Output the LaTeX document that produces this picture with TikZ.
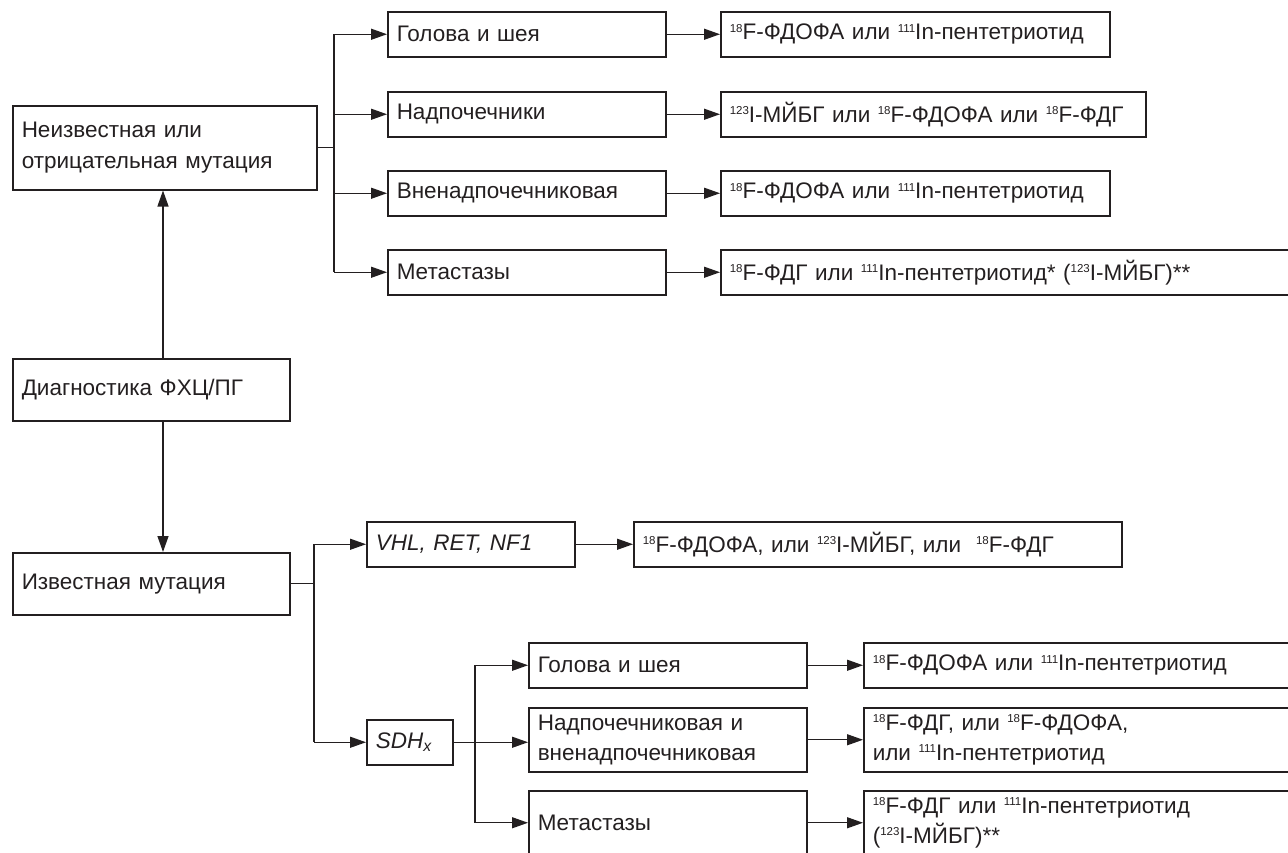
\documentclass[tikz,border=0pt]{standalone}
\usepackage{fontspec}
\setmainfont{Liberation Sans}
\usetikzlibrary{arrows.meta}
\definecolor{ink}{HTML}{231F20}
\newcommand\iso[1]{\raisebox{7.8pt}{\fontsize{11.5}{11.5}\selectfont #1}}
\begin{document}
\begin{tikzpicture}[x=1pt,y=-1pt,
  bx/.style={draw=ink, line width=1.5pt, anchor=north west, inner xsep=9pt, inner ysep=0pt,
    align=left, text=ink, font=\fontsize{22.5}{30.5}\selectfont},
  arr/.style={draw=ink, line width=1.3pt, -{Triangle[length=16pt,width=11pt]}},
  ln/.style={draw=ink, line width=1.3pt}]
\useasboundingbox (0,0) rectangle (1288,852);
\clip (0,0) rectangle (1288,852);
% left column
\node[bx, text width=286pt, minimum height=84pt] (unk) at (12,105) {Неизвестная или\\отрицательная мутация};
\node[bx, text width=259pt, minimum height=62pt] (diag) at (12,358) {Диагностика ФХЦ/ПГ};
\node[bx, text width=259pt, minimum height=62pt] (known) at (12,552) {Известная мутация};
% top branch
\node[bx, text width=260pt, minimum height=45pt] (t1) at (387,11) {Голова и шея};
\node[bx, text width=260pt, minimum height=45pt] (t2) at (387,91) {Надпочечники};
\node[bx, text width=260pt, minimum height=45pt] (t3) at (387,170) {Вненадпочечниковая};
\node[bx, text width=260pt, minimum height=45pt] (t4) at (387,249) {Метастазы};
\node[bx, text width=371pt, minimum height=45pt] (r1) at (720,11) {\iso{18}F-ФДОФА или \iso{111}In-пентетриотид};
\node[bx, text width=407pt, minimum height=45pt] (r2) at (720,91) {\iso{123}I-МЙБГ или \iso{18}F-ФДОФА или \iso{18}F-ФДГ};
\node[bx, text width=371pt, minimum height=45pt] (r3) at (720,170) {\iso{18}F-ФДОФА или \iso{111}In-пентетриотид};
\node[bx, text width=600pt, minimum height=45pt] (r4) at (720,249) {\iso{18}F-ФДГ или \iso{111}In-пентетриотид* (\iso{123}I-МЙБГ)**};
% bottom branch
\node[bx, text width=190pt, minimum height=45pt] (vhl) at (366,521) {\textit{VHL, RET, NF1}};
\node[bx, text width=470pt, minimum height=45pt] (vhlr) at (633,521) {\iso{18}F-ФДОФА, или \iso{123}I-МЙБГ, или~ \iso{18}F-ФДГ};
\node[bx, text width=68pt, minimum height=45pt] (sdh) at (366,719) {\textit{SDH\textsubscript{x}}};
\node[bx, text width=260pt, minimum height=45pt] (s1) at (528,642) {Голова и шея};
\node[bx, text width=260pt, minimum height=64pt] (s2) at (528,707) {Надпочечниковая и\\вненадпочечниковая};
\node[bx, text width=260pt, minimum height=64pt] (s3) at (528,790) {Метастазы};
\node[bx, text width=450pt, minimum height=45pt] (sr1) at (863,642) {\iso{18}F-ФДОФА или \iso{111}In-пентетриотид};
\node[bx, text width=450pt, minimum height=64pt] (sr2) at (863,707) {\iso{18}F-ФДГ, или \iso{18}F-ФДОФА,\\или \iso{111}In-пентетриотид};
\node[bx, text width=450pt, minimum height=64pt] (sr3) at (863,790) {\iso{18}F-ФДГ или \iso{111}In-пентетриотид\\(\iso{123}I-МЙБГ)**};
% bus coordinates
\coordinate (vx) at (163,0);
\coordinate (bA) at (334,0);
\coordinate (bB) at (314,0);
\coordinate (bC) at (475,0);
% vertical main arrows
\draw[arr] (vx |- diag.north) -- (vx |- unk.south);
\draw[arr] (vx |- diag.south) -- (vx |- known.north);
% top fan
\draw[ln] (unk.east) -- (bA |- unk.east);
\draw[ln] (bA |- t1.west) -- (bA |- t4.west);
\foreach \n in {t1,t2,t3,t4} \draw[arr] (bA |- \n.west) -- (\n.west);
\draw[arr] (t1.east) -- (r1.west |- t1.east);
\draw[arr] (t2.east) -- (r2.west |- t2.east);
\draw[arr] (t3.east) -- (r3.west |- t3.east);
\draw[arr] (t4.east) -- (r4.west |- t4.east);
% bottom fan
\draw[ln] (known.east) -- (bB |- known.east);
\draw[ln] (bB |- vhl.west) -- (bB |- sdh.west);
\draw[arr] (bB |- vhl.west) -- (vhl.west);
\draw[arr] (bB |- sdh.west) -- (sdh.west);
\draw[arr] (vhl.east) -- (vhlr.west |- vhl.east);
% sdh fan
\draw[arr] (sdh.east) -- (s2.west |- sdh.east);
\draw[ln] (bC |- s1.west) -- (bC |- s3.west);
\draw[arr] (bC |- s1.west) -- (s1.west);
\draw[arr] (bC |- s3.west) -- (s3.west);
\draw[arr] (s1.east) -- (sr1.west |- s1.east);
\draw[arr] (s2.east) -- (sr2.west |- s2.east);
\draw[arr] (s3.east) -- (sr3.west |- s3.east);
\end{tikzpicture}
\end{document}
